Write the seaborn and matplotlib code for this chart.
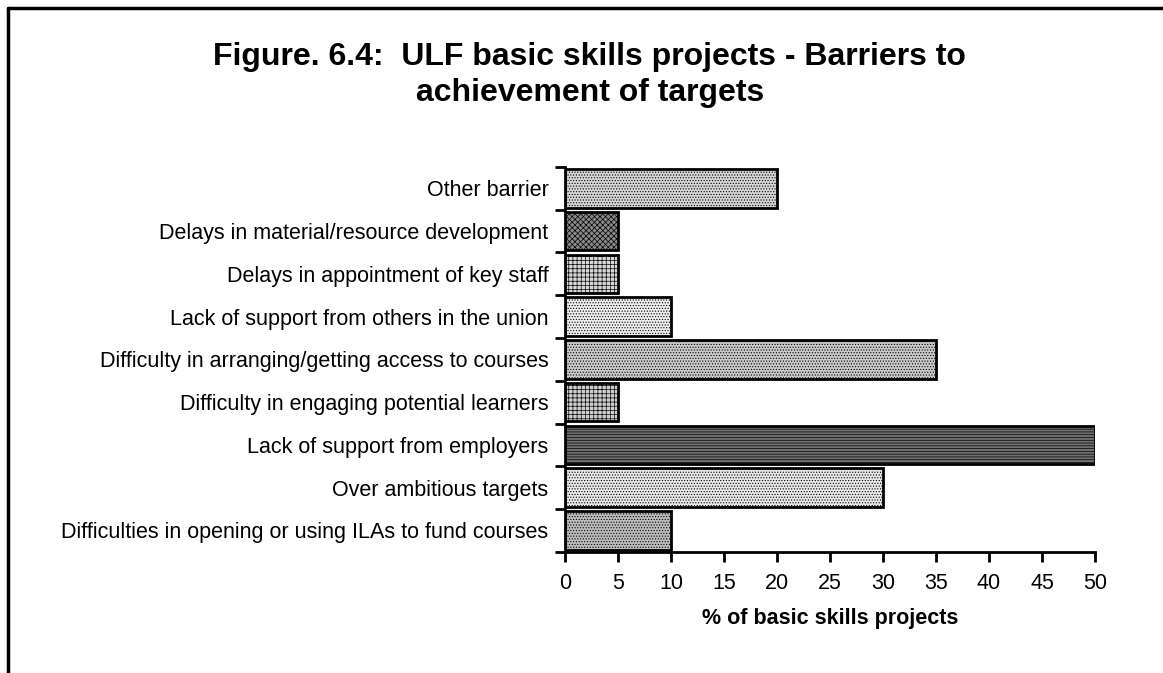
import matplotlib
matplotlib.use("Agg")
import matplotlib.pyplot as plt
from matplotlib.lines import Line2D
import seaborn as sns
import pandas as pd

# Data (top to bottom as shown)
barriers = [
    "Other barrier",
    "Delays in material/resource development",
    "Delays in appointment of key staff",
    "Lack of support from others in the union",
    "Difficulty in arranging/getting access to courses",
    "Difficulty in engaging potential learners",
    "Lack of support from employers",
    "Over ambitious targets",
    "Difficulties in opening or using ILAs to fund courses",
]
pct_projects = [20, 5, 5, 10, 35, 5, 50, 30, 10]

# per-bar look: fill grey and hatch pattern (imitating the old Excel fills)
bar_fills = ["#d6d6d6", "#8a8a8a", "#d8d8d8", "#eeeeee", "#cacaca",
             "#d0d0d0", "#707070", "#e8e8e8", "#bdbdbd"]
bar_hatches = ["......", "xxxxxx", "++++", "......", "......",
               "++++", "------", "......", "......"]

df = pd.DataFrame({"Barrier": barriers, "Percent": pct_projects})

sns.set_style("white")
plt.rcParams["font.family"] = ["Liberation Sans", "DejaVu Sans"]
plt.rcParams["hatch.linewidth"] = 0.5
plt.rcParams["hatch.color"] = "#444444"
plt.rcParams["text.color"] = "black"
plt.rcParams["xtick.color"] = "black"
plt.rcParams["ytick.color"] = "black"
plt.rcParams["axes.labelcolor"] = "black"

fig = plt.figure(figsize=(11.63, 6.73), dpi=100)
ax = fig.add_axes([0.486, 0.180, 0.4555, 0.572])

sns.barplot(data=df, x="Percent", y="Barrier", orient="h", ax=ax,
            width=0.9, color="#cccccc", edgecolor="black", linewidth=2,
            saturation=1)

for patch, fc, h in zip(ax.patches, bar_fills, bar_hatches):
    patch.set_facecolor(fc)
    patch.set_hatch(h)

ax.set_xlim(0, 50)
ax.set_ylim(len(barriers) - 0.5, -0.5)
ax.set_xticks(range(0, 51, 5))
ax.set_xlabel("% of basic skills projects", fontsize=15.5, fontweight="bold",
              labelpad=10)
ax.set_ylabel("")

# category ticks at the boundaries, labels at the centres
ax.set_yticks([i - 0.5 for i in range(len(barriers) + 1)], minor=False)
ax.set_yticklabels([])
ax.set_yticks(range(len(barriers)), minor=True)
ax.set_yticklabels(barriers, minor=True, fontsize=15.5)
ax.tick_params(axis="y", which="minor", length=0, pad=12)
ax.tick_params(axis="y", which="major", length=7, width=2, direction="out",
               left=True)
ax.tick_params(axis="x", length=7, width=2, direction="out", bottom=True,
               labelsize=15.5, pad=8)

for side in ["top", "right"]:
    ax.spines[side].set_visible(False)
for side in ["left", "bottom"]:
    ax.spines[side].set_linewidth(2)
    ax.spines[side].set_color("black")

fig.text(0.507, 0.937, "Figure. 6.4:  ULF basic skills projects - Barriers to\nachievement of targets",
         ha="center", va="top", fontsize=23, fontweight="bold",
         linespacing=1.25)

# chart area frame (only top and left visible in the crop)
fig.add_artist(Line2D([0.007, 1.0], [0.988, 0.988], color="black", lw=2.5,
                      transform=fig.transFigure))
fig.add_artist(Line2D([0.007, 0.007], [0.0, 0.988], color="black", lw=2.5,
                      transform=fig.transFigure))

fig.savefig("out.png", dpi=100, facecolor="white")
